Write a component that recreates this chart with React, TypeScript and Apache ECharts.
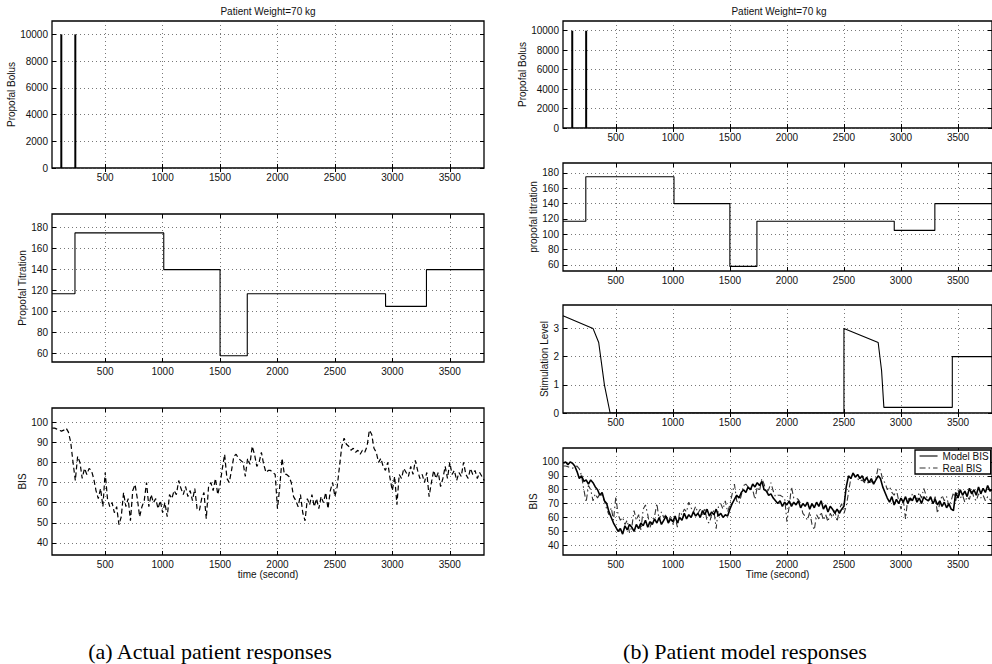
import React, { useEffect, useRef } from "react";
import * as echarts from "echarts";

// ---- shared time axis -------------------------------------------------------
const X_MIN = 37;
const X_MAX = 3798;
const timeTicks = [500, 1000, 1500, 2000, 2500, 3000, 3500];

// ---- propofol bolus (two injections) ----------------------------------------
const bolusTimes = [118, 240];
const bolusDoses = [10000, 10000];
const bolusTicks = [0, 2000, 4000, 6000, 8000, 10000];

// ---- propofol titration rate (piecewise constant) ---------------------------
const titrationTimes = [37, 237, 1010, 1500, 1737, 2941, 3297, 3798];
const titrationRates = [117, 175, 140, 58, 117, 105, 140, 140];
const titrationTicks = [60, 80, 100, 120, 140, 160, 180];

// ---- stimulation level -------------------------------------------------------
const stimTimes = [37, 300, 350, 400, 450, 2500, 2500, 2800, 2830, 2850, 3450, 3450, 3798];
const stimLevels = [3.45, 3.0, 2.5, 1.0, 0, 0, 3.0, 2.5, 1.5, 0.2, 0.2, 2.0, 2.0];
const stimTicks = [0, 1, 2, 3];

// ---- BIS recordings, sampled every 20 s from t = 40 s ------------------------
const BIS_T0 = 40;
const BIS_DT = 20;
const bisTicks = [40, 50, 60, 70, 80, 90, 100];

const realBis = [
  97, 97, 96.5, 96, 95.5, 96, 97, 95, 90, 80,
  71, 83, 80, 72, 77, 74, 77, 76, 72, 66,
  62, 67, 58, 75, 62, 58, 60, 55, 58, 49,
  53, 65, 58, 62, 51, 66, 69, 62, 53, 58,
  61, 70, 58, 64, 60, 62, 57, 61, 55, 60,
  53, 64, 62, 66, 64, 71, 67, 64, 68, 63,
  66, 61, 67, 57, 56, 62, 65, 52, 68, 70,
  66, 72, 64, 69, 77, 84, 72, 70, 76, 83,
  84, 82, 81, 80, 73, 82, 79, 88, 84, 78,
  80, 85, 79, 75, 76, 76, 75, 74, 57, 68,
  82, 74, 74, 73, 70, 63, 61, 58, 64, 55,
  51, 62, 59, 64, 58, 62, 57, 63, 60, 65,
  57, 66, 70, 63, 68, 78, 88, 92, 89, 88,
  86, 87, 85, 86, 84, 86, 85, 88, 96, 94,
  87, 85, 80, 82, 78, 76, 80, 72, 66, 73,
  59, 74, 72, 77, 75, 73, 78, 74, 81, 76,
  72, 74, 70, 75, 63, 70, 76, 72, 75, 68,
  72, 78, 72, 80, 74, 76, 71, 75, 73, 80,
  74, 72, 77, 74, 76, 72, 75, 73, 71,
];

const modelBis = [
  99, 100, 98, 100, 99, 97, 93, 88, 90, 86,
  87, 84, 87, 85, 82, 80, 76, 78, 72, 70,
  64, 60, 56, 53, 50, 52, 48, 54, 51, 55,
  53, 50, 55, 52, 56, 54, 58, 53, 57, 55,
  59, 56, 60, 55, 58, 61, 56, 59, 57, 61,
  56, 60, 58, 63, 59, 62, 60, 64, 61, 63,
  60, 65, 62, 66, 61, 64, 62, 66, 61, 63,
  60, 62, 61, 66, 70, 73, 76, 74, 78, 80,
  78, 82, 80, 84, 82, 85, 83, 86, 80, 79,
  76, 77, 74, 72, 70, 72, 68, 71, 69, 72,
  68, 71, 69, 72, 67, 70, 68, 71, 66, 70,
  67, 71, 68, 72, 66, 69, 64, 68, 66, 63,
  66, 63, 66, 68, 82, 90, 88, 92, 89, 91,
  88, 90, 86, 89, 85, 88, 84, 87, 90, 88,
  82, 78, 74, 71, 75, 69, 73, 70, 74, 71,
  75, 70, 74, 72, 76, 71, 74, 70, 75, 73,
  72, 75, 70, 73, 69, 72, 68, 71, 67, 70,
  66, 65, 78, 74, 80, 76, 79, 75, 81, 77,
  80, 76, 82, 77, 81, 78, 83, 79, 80,
];

// ---- panel layout -----------------------------------------------------------
type Panel = {
  box: { left: number; top: number; width: number; height: number };
  yMin: number;
  yMax: number;
  yTicks: number[];
  yName: string;
  yNameGap: number;
  xName?: string;
};

const panels: Panel[] = [
  { box: { left: 52, top: 21, width: 432, height: 147 }, yMin: 0, yMax: 11000, yTicks: bolusTicks, yName: "Propofal Bolus", yNameGap: 31 },
  { box: { left: 52, top: 214, width: 432, height: 148 }, yMin: 52, yMax: 193, yTicks: titrationTicks, yName: "Propofal Titration", yNameGap: 20 },
  { box: { left: 52, top: 408, width: 432, height: 147 }, yMin: 34, yMax: 107, yTicks: bisTicks, yName: "BIS", yNameGap: 18, xName: "time (second)" },
  { box: { left: 563, top: 21, width: 433, height: 107 }, yMin: 0, yMax: 11000, yTicks: bolusTicks, yName: "Propofal Bolus", yNameGap: 32 },
  { box: { left: 563, top: 163, width: 433, height: 108 }, yMin: 52, yMax: 193, yTicks: titrationTicks, yName: "propofal titration", yNameGap: 20 },
  { box: { left: 563, top: 305, width: 433, height: 108 }, yMin: 0, yMax: 3.83, yTicks: stimTicks, yName: "Stimulation Level", yNameGap: 10 },
  { box: { left: 563, top: 448, width: 433, height: 107 }, yMin: 33, yMax: 110, yTicks: bisTicks, yName: "BIS", yNameGap: 20, xName: "Time (second)" },
];

const FONT = "Liberation Sans, Arial, Helvetica, sans-serif";
const SERIF = `"Liberation Serif", "DejaVu Serif", serif`;
const LABEL = { fontFamily: FONT, fontSize: 10, color: "#111" };
const GRID_LINE = { color: "#555", type: [1, 3] as number[], width: 0.8 };
const TICK = { show: true, inside: true, length: 4, lineStyle: { color: "#000", width: 1 } };

function buildOption() {
  const grid: any[] = [];
  const xAxis: any[] = [];
  const yAxis: any[] = [];

  panels.forEach((p, g) => {
    grid.push({ ...p.box, show: true, borderColor: "#000", borderWidth: 1.3, backgroundColor: "transparent" });
    // bottom axis with labels + dotted grid
    xAxis.push({
      type: "value", gridIndex: g, min: X_MIN, max: X_MAX, position: "bottom",
      axisLine: { show: false },
      axisTick: { ...TICK, customValues: timeTicks },
      axisLabel: { ...LABEL, customValues: timeTicks, margin: 4, formatter: (v: number) => String(v) },
      splitLine: { show: true, lineStyle: GRID_LINE },
      name: p.xName, nameLocation: "middle", nameGap: 13,
      nameTextStyle: { ...LABEL },
    });
    // mirrored ticks on the top edge
    xAxis.push({
      type: "value", gridIndex: g, min: X_MIN, max: X_MAX, position: "top",
      axisLine: { show: false },
      axisTick: { ...TICK, customValues: timeTicks },
      axisLabel: { show: false },
      splitLine: { show: false },
    });
    yAxis.push({
      type: "value", gridIndex: g, min: p.yMin, max: p.yMax, position: "left",
      axisLine: { show: false },
      axisTick: { ...TICK, customValues: p.yTicks },
      axisLabel: { ...LABEL, customValues: p.yTicks, margin: 4, formatter: (v: number) => String(v) },
      splitLine: { show: true, lineStyle: GRID_LINE },
      name: p.yName, nameLocation: "middle", nameGap: p.yNameGap,
      nameTextStyle: { ...LABEL },
    });
    // mirrored ticks on the right edge
    yAxis.push({
      type: "value", gridIndex: g, min: p.yMin, max: p.yMax, position: "right",
      axisLine: { show: false },
      axisTick: { ...TICK, customValues: p.yTicks },
      axisLabel: { show: false },
      splitLine: { show: false },
    });
  });

  const on = (g: number) => ({ xAxisIndex: 2 * g, yAxisIndex: 2 * g });
  const base = { type: "line", symbol: "none", silent: true, z: 5 };
  const series: any[] = [];

  const bisPoints = (vals: number[]) => vals.map((v, i) => [BIS_T0 + i * BIS_DT, v]);

  [0, 3].forEach((g) => {
    bolusTimes.forEach((t, i) => {
      series.push({ ...base, ...on(g), data: [[t, 0], [t, bolusDoses[i]]], lineStyle: { color: "#000", width: 2 } });
    });
  });

  [1, 4].forEach((g) => {
    series.push({
      ...base, ...on(g), step: "end",
      data: titrationTimes.map((t, i) => [t, titrationRates[i]]),
      lineStyle: { color: "#000", width: 1.1 },
    });
  });

  series.push({
    ...base, ...on(5),
    data: stimTimes.map((t, i) => [t, stimLevels[i]]),
    lineStyle: { color: "#000", width: 1.1 },
  });

  // (a) measured BIS
  series.push({
    ...base, ...on(2), name: "Measured BIS",
    data: bisPoints(realBis),
    lineStyle: { color: "#000", width: 1.2, type: [5, 3] },
  });

  // (b) measured vs. simulated BIS
  series.push({
    ...base, ...on(6), name: "Real BIS",
    data: bisPoints(realBis),
    itemStyle: { color: "#333" },
    lineStyle: { color: "#333", width: 1.1, type: [6, 3, 1.5, 3] },
  });
  series.push({
    ...base, ...on(6), name: "Model BIS",
    data: bisPoints(modelBis),
    itemStyle: { color: "#000" },
    lineStyle: { color: "#000", width: 1.6 },
  });

  return {
    animation: false,
    backgroundColor: "#fff",
    grid,
    xAxis,
    yAxis,
    series,
    legend: {
      data: ["Model BIS", "Real BIS"],
      left: 915, top: 450, orient: "vertical",
      itemWidth: 18, itemHeight: 8, itemGap: 2,
      padding: [1, 2, 1, 4],
      borderColor: "#000", borderWidth: 1.3, backgroundColor: "#fff",
      itemStyle: { opacity: 0 },
      lineStyle: { width: 1.1 },
      textStyle: { ...LABEL, lineHeight: 10 },
      selectedMode: false,
    },
    graphic: [
      { type: "text", x: 268, y: 6, style: { text: "Patient Weight=70 kg", font: `10px ${FONT}`, fill: "#111", textAlign: "center" } },
      { type: "text", x: 779, y: 6, style: { text: "Patient Weight=70 kg", font: `10px ${FONT}`, fill: "#111", textAlign: "center" } },
      { type: "text", x: 210, y: 640, style: { text: "(a) Actual patient responses", font: `22px ${SERIF}`, fill: "#000", textAlign: "center" } },
      { type: "text", x: 745, y: 640, style: { text: "(b) Patient model responses", font: `22px ${SERIF}`, fill: "#000", textAlign: "center" } },
    ],
  };
}

export default function App() {
  const ref = useRef<HTMLDivElement>(null);
  useEffect(() => {
    if (!ref.current) return;
    const chart = echarts.init(ref.current, null, { renderer: "svg" });
    chart.setOption(buildOption() as any);
    return () => chart.dispose();
  }, []);
  return <div ref={ref} style={{ position: "absolute", left: 0, top: 0, width: 992, height: 664 }} />;
}
